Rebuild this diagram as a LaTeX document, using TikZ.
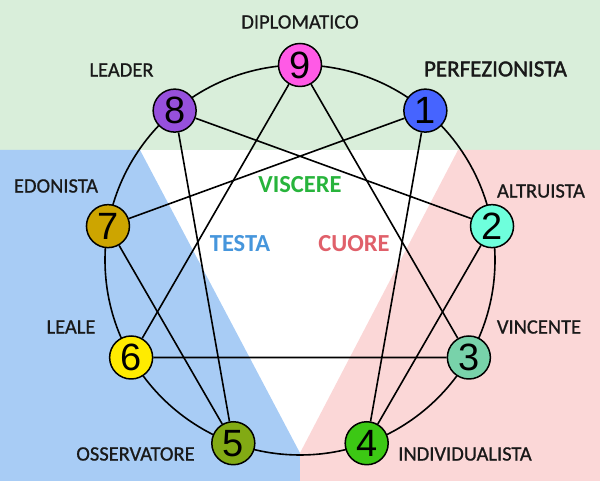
\documentclass[tikz,border=0pt]{standalone}
\usepackage{fontspec}
\setmainfont{Carlito}
\newfontfamily\cifre{Liberation Sans}
\newfontfamily\spesso{Carlito}[FakeBold=0.8]
\newfontfamily\piuspesso{Carlito}[FakeBold=1.6]
\usetikzlibrary{calc}
\definecolor{verdechiaro}{RGB}{217,238,218}
\definecolor{bluchiaro}{RGB}{168,204,245}
\definecolor{rosachiaro}{RGB}{251,215,215}
\definecolor{col1}{RGB}{70,100,255}
\definecolor{col2}{RGB}{110,255,220}
\definecolor{col3}{RGB}{120,210,170}
\definecolor{col4}{RGB}{60,200,20}
\definecolor{col5}{RGB}{130,170,20}
\definecolor{col6}{RGB}{255,235,0}
\definecolor{col7}{RGB}{205,165,0}
\definecolor{col8}{RGB}{150,80,220}
\definecolor{col9}{RGB}{255,90,230}
\definecolor{verdetesto}{RGB}{40,180,60}
\definecolor{blutesto}{RGB}{70,150,220}
\definecolor{rossotesto}{RGB}{224,96,106}
\tikzset{
punto/.style={circle,draw,line width=1.5pt,minimum size=43pt,inner sep=0pt,font=\cifre\fontsize{38}{38}\selectfont},
linea/.style={line width=1.6pt},
nome/.style={text=black!90,font=\spesso\fontsize{20.5}{21}\selectfont},
centro/.style={font=\bfseries\fontsize{24.5}{25}\selectfont}}

\begin{document}
\begin{tikzpicture}[x=1pt,y=1pt]

\useasboundingbox (0,0) rectangle (600,481);
\fill[verdechiaro] (0,331) rectangle (600,481);
\fill[bluchiaro] (0,0) -- (0,331) -- (140,331) -- (300,28) -- (300,0) -- cycle;
\fill[rosachiaro] (600,0) -- (600,331) -- (458,331) -- (300,28) -- (300,0) -- cycle;

\coordinate (c) at (300,221);
\draw[linea] (c) circle (195pt);

\node[punto,fill=col9] (9) at ($(c)+(90:195)$) {9};
\node[punto,fill=col1] (1) at ($(c)+(50:195)$) {1};
\node[punto,fill=col2] (2) at ($(c)+(10:195)$) {2};
\node[punto,fill=col3] (3) at ($(c)+(-30:195)$) {3};
\node[punto,fill=col4] (4) at ($(c)+(-70:195)$) {4};
\node[punto,fill=col5] (5) at ($(c)+(-110:195)$) {5};
\node[punto,fill=col6] (6) at ($(c)+(-150:195)$) {6};
\node[punto,fill=col7] (7) at ($(c)+(170:195)$) {7};
\node[punto,fill=col8] (8) at ($(c)+(130:195)$) {8};

\draw[linea] (9) -- (3) -- (6) -- (9);
\draw[linea] (1) -- (4) -- (2) -- (8) -- (5) -- (7) -- (1);

\node[nome] (n9) at (300,459) {DIPLOMATICO};
\node[nome] (n8) at (121.5,411) {LEADER};
\node[nome,font=\piuspesso\fontsize{23}{23}\selectfont] (n1) at (495.5,412) {PERFEZIONISTA};
\node[nome] (n7) at (56,295) {EDONISTA};
\node[nome] (n2) at (541,290) {ALTRUISTA};
\node[nome] (n6) at (71,154) {LEALE};
\node[nome] (n3) at (539,154) {VINCENTE};
\node[nome] (n5) at (135.5,27) {OSSERVATORE};
\node[nome] (n4) at (465,27) {INDIVIDUALISTA};

\node[centro,text=verdetesto] (viscere) at (300,296.5) {VISCERE};
\node[centro,text=blutesto] (testa) at (240,237) {TESTA};
\node[centro,text=rossotesto] (cuore) at (354,237) {CUORE};

\end{tikzpicture}
\end{document}
